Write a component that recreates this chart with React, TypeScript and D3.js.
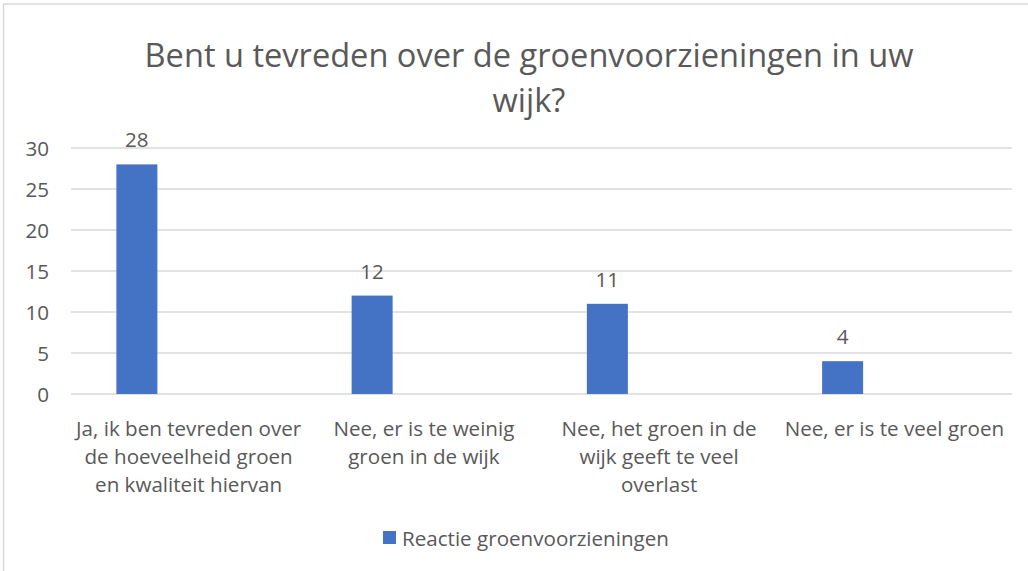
import React from "react";
import * as d3 from "d3";

const categories: string[][] = [
  ["Ja, ik ben tevreden over", "de hoeveelheid groen", "en kwaliteit hiervan"],
  ["Nee, er is te weinig", "groen in de wijk"],
  ["Nee, het groen in de", "wijk geeft te veel", "overlast"],
  ["Nee, er is te veel groen"],
];
const values: number[] = [28, 12, 11, 4];
const yTicks: number[] = [0, 5, 10, 15, 20, 25, 30];
const seriesName = "Reactie groenvoorzieningen";
const titleLines = ["Bent u tevreden over de groenvoorzieningen in uw", "wijk?"];

const W = 1028;
const H = 571;
const FONT = "'Open Sans', sans-serif";
const TEXT = "#595959";
const FS = 20.6;

export default function App() {
  const x0 = 71;
  const x1 = 1012;
  const y = d3.scaleLinear().domain([0, 30]).range([394, 148]);
  const band = d3.scaleBand<number>().domain(d3.range(categories.length)).range([x0, x1]);
  const bw = band.bandwidth();
  const barW = 41;
  const barOffset = 0.28 * bw; // bar center offset from band start

  return (
    <div style={{ position: "absolute", left: 0, top: 0 }}>
      <svg width={W} height={H} style={{ display: "block", fontFamily: FONT }}>
        <rect x={0} y={0} width={W} height={H} fill="#fff" />
        <line x1={3.5} y1={4} x2={3.5} y2={H} stroke="#d9d9d9" strokeWidth={1.5} />
        <line x1={3} y1={4} x2={W} y2={4} stroke="#d9d9d9" strokeWidth={1.5} />
        {titleLines.map((t, i) => (
          <text key={i} x={529} y={67 + i * 45} textAnchor="middle" fontSize={32.6} fill={TEXT}>
            {t}
          </text>
        ))}
        {yTicks.map((t) => (
          <g key={t}>
            <line x1={x0} x2={x1} y1={y(t)} y2={y(t)} stroke="#d9d9d9" strokeWidth={1.3} />
            <text x={49} y={y(t) + 7.5} textAnchor="end" fontSize={FS} fill={TEXT}>
              {t}
            </text>
          </g>
        ))}
        {values.map((v, i) => {
          const cx = (band(i) as number) + barOffset;
          return (
            <g key={i}>
              <rect x={cx - barW / 2} y={y(v)} width={barW} height={y(0) - y(v)} fill="#4472c4" />
              <text x={cx} y={y(v) - 17} textAnchor="middle" fontSize={FS} fill={TEXT}>
                {v}
              </text>
            </g>
          );
        })}
        {categories.map((lines, i) => {
          const cx = (band(i) as number) + bw / 2;
          return (
            <text key={i} textAnchor="middle" fontSize={FS} fill={TEXT}>
              {lines.map((l, j) => (
                <tspan key={j} x={cx} y={435.5 + j * 28}>
                  {l}
                </tspan>
              ))}
            </text>
          );
        })}
        <rect x={383} y={531} width={13} height={13} fill="#4472c4" />
        <text x={402} y={546} fontSize={FS} fill={TEXT}>
          {seriesName}
        </text>
      </svg>
    </div>
  );
}
